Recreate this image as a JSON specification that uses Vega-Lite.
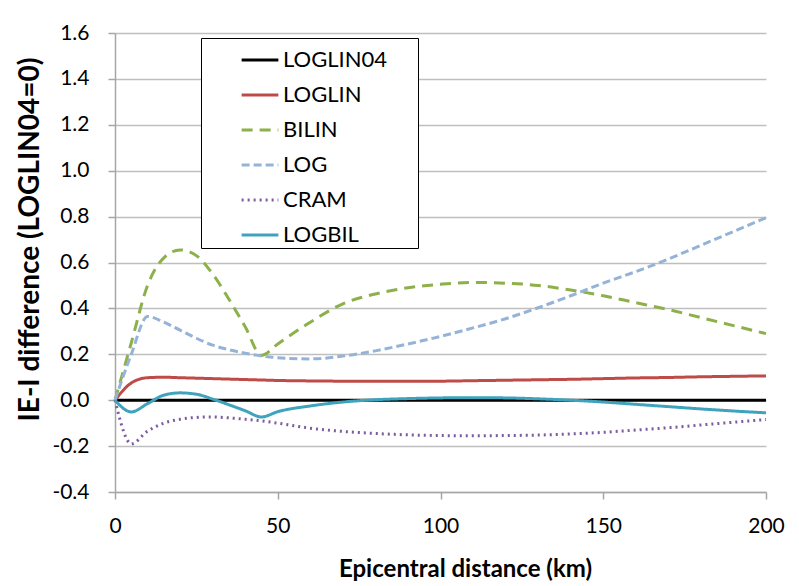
{
  "$schema": "https://vega.github.io/schema/vega-lite/v6.json",
  "width": 651,
  "height": 459,
  "autosize": "none",
  "padding": {"left": 115, "top": 33, "right": 33, "bottom": 94},
  "background": "white",
  "config": {
    "font": "Lato",
    "view": {"stroke": null}
  },
  "data": {
    "values": [
      {"model": "LOGLIN04", "d": 0, "v": 0},
      {"model": "LOGLIN04", "d": 200, "v": 0},

      {"model": "LOGLIN", "d": 0, "v": 0},
      {"model": "LOGLIN", "d": 5, "v": 0.075},
      {"model": "LOGLIN", "d": 10, "v": 0.098},
      {"model": "LOGLIN", "d": 15, "v": 0.1},
      {"model": "LOGLIN", "d": 20, "v": 0.098},
      {"model": "LOGLIN", "d": 25, "v": 0.096},
      {"model": "LOGLIN", "d": 30, "v": 0.094},
      {"model": "LOGLIN", "d": 35, "v": 0.092},
      {"model": "LOGLIN", "d": 40, "v": 0.09},
      {"model": "LOGLIN", "d": 45, "v": 0.088},
      {"model": "LOGLIN", "d": 50, "v": 0.086},
      {"model": "LOGLIN", "d": 60, "v": 0.084},
      {"model": "LOGLIN", "d": 70, "v": 0.083},
      {"model": "LOGLIN", "d": 80, "v": 0.083},
      {"model": "LOGLIN", "d": 90, "v": 0.083},
      {"model": "LOGLIN", "d": 100, "v": 0.083},
      {"model": "LOGLIN", "d": 110, "v": 0.085},
      {"model": "LOGLIN", "d": 120, "v": 0.087},
      {"model": "LOGLIN", "d": 130, "v": 0.089},
      {"model": "LOGLIN", "d": 140, "v": 0.091},
      {"model": "LOGLIN", "d": 150, "v": 0.094},
      {"model": "LOGLIN", "d": 160, "v": 0.097},
      {"model": "LOGLIN", "d": 170, "v": 0.099},
      {"model": "LOGLIN", "d": 180, "v": 0.102},
      {"model": "LOGLIN", "d": 190, "v": 0.104},
      {"model": "LOGLIN", "d": 200, "v": 0.106},

      {"model": "BILIN", "d": 0, "v": 0},
      {"model": "BILIN", "d": 5, "v": 0.25},
      {"model": "BILIN", "d": 10, "v": 0.5},
      {"model": "BILIN", "d": 15, "v": 0.62},
      {"model": "BILIN", "d": 20, "v": 0.655},
      {"model": "BILIN", "d": 25, "v": 0.63},
      {"model": "BILIN", "d": 30, "v": 0.55},
      {"model": "BILIN", "d": 35, "v": 0.44},
      {"model": "BILIN", "d": 40, "v": 0.32},
      {"model": "BILIN", "d": 45, "v": 0.195},
      {"model": "BILIN", "d": 50, "v": 0.245},
      {"model": "BILIN", "d": 60, "v": 0.34},
      {"model": "BILIN", "d": 70, "v": 0.42},
      {"model": "BILIN", "d": 80, "v": 0.463},
      {"model": "BILIN", "d": 90, "v": 0.49},
      {"model": "BILIN", "d": 100, "v": 0.505},
      {"model": "BILIN", "d": 110, "v": 0.513},
      {"model": "BILIN", "d": 120, "v": 0.51},
      {"model": "BILIN", "d": 130, "v": 0.5},
      {"model": "BILIN", "d": 140, "v": 0.48},
      {"model": "BILIN", "d": 150, "v": 0.455},
      {"model": "BILIN", "d": 160, "v": 0.425},
      {"model": "BILIN", "d": 170, "v": 0.395},
      {"model": "BILIN", "d": 180, "v": 0.36},
      {"model": "BILIN", "d": 190, "v": 0.325},
      {"model": "BILIN", "d": 200, "v": 0.29},

      {"model": "LOG", "d": 0, "v": 0},
      {"model": "LOG", "d": 5, "v": 0.2},
      {"model": "LOG", "d": 10, "v": 0.365},
      {"model": "LOG", "d": 15, "v": 0.34},
      {"model": "LOG", "d": 20, "v": 0.305},
      {"model": "LOG", "d": 25, "v": 0.27},
      {"model": "LOG", "d": 30, "v": 0.24},
      {"model": "LOG", "d": 35, "v": 0.22},
      {"model": "LOG", "d": 40, "v": 0.205},
      {"model": "LOG", "d": 45, "v": 0.193},
      {"model": "LOG", "d": 50, "v": 0.185},
      {"model": "LOG", "d": 60, "v": 0.18},
      {"model": "LOG", "d": 70, "v": 0.192},
      {"model": "LOG", "d": 80, "v": 0.215},
      {"model": "LOG", "d": 90, "v": 0.245},
      {"model": "LOG", "d": 100, "v": 0.278},
      {"model": "LOG", "d": 110, "v": 0.315},
      {"model": "LOG", "d": 120, "v": 0.355},
      {"model": "LOG", "d": 130, "v": 0.403},
      {"model": "LOG", "d": 140, "v": 0.455},
      {"model": "LOG", "d": 150, "v": 0.51},
      {"model": "LOG", "d": 160, "v": 0.56},
      {"model": "LOG", "d": 170, "v": 0.615},
      {"model": "LOG", "d": 180, "v": 0.675},
      {"model": "LOG", "d": 190, "v": 0.735},
      {"model": "LOG", "d": 200, "v": 0.795},

      {"model": "CRAM", "d": 0, "v": 0},
      {"model": "CRAM", "d": 5, "v": -0.19},
      {"model": "CRAM", "d": 10, "v": -0.135},
      {"model": "CRAM", "d": 15, "v": -0.1},
      {"model": "CRAM", "d": 20, "v": -0.083},
      {"model": "CRAM", "d": 25, "v": -0.075},
      {"model": "CRAM", "d": 30, "v": -0.073},
      {"model": "CRAM", "d": 35, "v": -0.077},
      {"model": "CRAM", "d": 40, "v": -0.083},
      {"model": "CRAM", "d": 45, "v": -0.09},
      {"model": "CRAM", "d": 50, "v": -0.1},
      {"model": "CRAM", "d": 60, "v": -0.122},
      {"model": "CRAM", "d": 70, "v": -0.136},
      {"model": "CRAM", "d": 80, "v": -0.145},
      {"model": "CRAM", "d": 90, "v": -0.151},
      {"model": "CRAM", "d": 100, "v": -0.154},
      {"model": "CRAM", "d": 110, "v": -0.155},
      {"model": "CRAM", "d": 120, "v": -0.154},
      {"model": "CRAM", "d": 130, "v": -0.152},
      {"model": "CRAM", "d": 140, "v": -0.147},
      {"model": "CRAM", "d": 150, "v": -0.14},
      {"model": "CRAM", "d": 160, "v": -0.13},
      {"model": "CRAM", "d": 170, "v": -0.12},
      {"model": "CRAM", "d": 180, "v": -0.108},
      {"model": "CRAM", "d": 190, "v": -0.096},
      {"model": "CRAM", "d": 200, "v": -0.084},

      {"model": "LOGBIL", "d": 0, "v": 0},
      {"model": "LOGBIL", "d": 5, "v": -0.051},
      {"model": "LOGBIL", "d": 10, "v": -0.015},
      {"model": "LOGBIL", "d": 15, "v": 0.022},
      {"model": "LOGBIL", "d": 20, "v": 0.032},
      {"model": "LOGBIL", "d": 25, "v": 0.026},
      {"model": "LOGBIL", "d": 30, "v": 0.005},
      {"model": "LOGBIL", "d": 35, "v": -0.02},
      {"model": "LOGBIL", "d": 40, "v": -0.046},
      {"model": "LOGBIL", "d": 45, "v": -0.073},
      {"model": "LOGBIL", "d": 50, "v": -0.05},
      {"model": "LOGBIL", "d": 60, "v": -0.025},
      {"model": "LOGBIL", "d": 70, "v": -0.008},
      {"model": "LOGBIL", "d": 80, "v": 0.002},
      {"model": "LOGBIL", "d": 90, "v": 0.007},
      {"model": "LOGBIL", "d": 100, "v": 0.01},
      {"model": "LOGBIL", "d": 110, "v": 0.011},
      {"model": "LOGBIL", "d": 120, "v": 0.01},
      {"model": "LOGBIL", "d": 130, "v": 0.006},
      {"model": "LOGBIL", "d": 140, "v": 0.0},
      {"model": "LOGBIL", "d": 150, "v": -0.008},
      {"model": "LOGBIL", "d": 160, "v": -0.018},
      {"model": "LOGBIL", "d": 170, "v": -0.028},
      {"model": "LOGBIL", "d": 180, "v": -0.038},
      {"model": "LOGBIL", "d": 190, "v": -0.047},
      {"model": "LOGBIL", "d": 200, "v": -0.055}
    ]
  },
  "mark": {"type": "line", "strokeWidth": 3, "interpolate": "monotone"},
  "encoding": {
    "x": {
      "field": "d",
      "type": "quantitative",
      "scale": {"domain": [0, 200], "nice": false},
      "axis": {
        "title": "Epicentral distance (km)",
        "titleFontSize": 24,
        "titleFontWeight": "bold",
        "titleColor": "#000000",
        "titleX": 350,
        "titleY": 77,
        "titleAlign": "center",
        "titleBaseline": "middle",
        "values": [0, 50, 100, 150, 200],
        "labelFontSize": 21,
        "labelColor": "#000000",
        "labelPadding": 16,
        "labelFlush": false,
        "grid": false,
        "domainColor": "#A6A6A6",
        "domainWidth": 1.5,
        "tickColor": "#A6A6A6",
        "tickSize": 7,
        "tickWidth": 1.5
      }
    },
    "y": {
      "field": "v",
      "type": "quantitative",
      "scale": {"domain": [-0.4, 1.6], "nice": false, "zero": false},
      "axis": {
        "title": "IE-I difference (LOGLIN04=0)",
        "titleFontSize": 28,
        "titleFontWeight": "bold",
        "titleColor": "#000000",
        "titleAngle": -90,
        "titleX": -85,
        "titleY": 206,
        "titleAlign": "center",
        "titleBaseline": "middle",
        "values": [-0.4, -0.2, 0, 0.2, 0.4, 0.6, 0.8, 1.0, 1.2, 1.4, 1.6],
        "labelExpr": "replace(format(datum.value, '.1f'), '\u2212', '-')",
        "labelFontSize": 21,
        "labelColor": "#000000",
        "labelPadding": 19,
        "grid": true,
        "gridColor": "#BFBFBF",
        "gridWidth": 1.5,
        "domainColor": "#A6A6A6",
        "domainWidth": 1.5,
        "tickColor": "#A6A6A6",
        "tickSize": 7,
        "tickWidth": 1.5
      }
    },
    "color": {
      "field": "model",
      "type": "nominal",
      "scale": {
        "domain": ["LOGLIN04", "LOGLIN", "BILIN", "LOG", "CRAM", "LOGBIL"],
        "range": ["#000000", "#BE4B48", "#8DB04A", "#95B3D7", "#7A5C9F", "#3FA3BD"]
      },
      "legend": {
        "title": null,
        "orient": "none",
        "legendX": 86,
        "legendY": 5,
        "fillColor": "white",
        "strokeColor": "#000000",
        "padding": 2,
        "symbolType": "stroke",
        "symbolSize": 1350,
        "symbolStrokeWidth": 3,
        "symbolOffset": 37,
        "labelFontSize": 22,
        "labelColor": "#000000",
        "labelOffset": 3,
        "rowPadding": 4,
        "labelExpr": "datum.label + '\u00a0\u00a0\u00a0\u00a0\u00a0\u200b'"
      }
    },
    "strokeDash": {
      "field": "model",
      "type": "nominal",
      "scale": {
        "domain": ["LOGLIN04", "LOGLIN", "BILIN", "LOG", "CRAM", "LOGBIL"],
        "range": [[1, 0], [1, 0], [11, 7], [8, 4], [2, 4], [1, 0]]
      },
      "legend": null
    },
    "order": {"field": "d"}
  }
}
